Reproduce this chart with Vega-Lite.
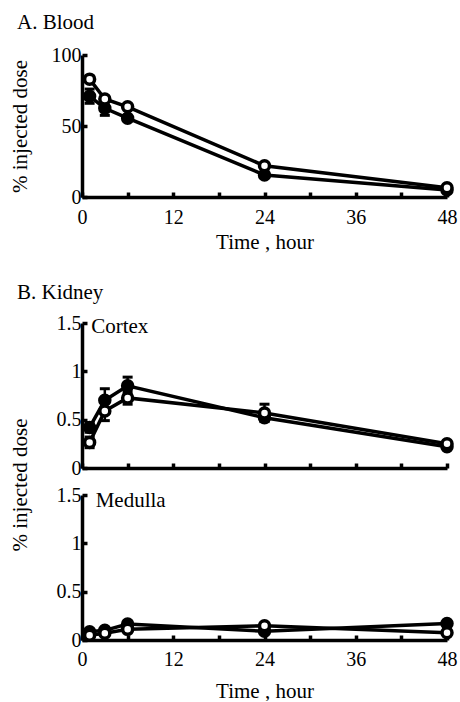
{
  "$schema": "https://vega.github.io/schema/vega-lite/v6.json",
  "padding": {"left": 9, "top": 12, "right": 0, "bottom": 0},
  "config": {
    "font": "Times New Roman",
    "view": {"stroke": null},
    "title": {"font": "Times New Roman", "fontSize": 21, "fontWeight": "normal", "color": "black", "anchor": "start", "frame": "group", "baseline": "alphabetic"},
    "text": {"font": "Times New Roman"},
    "axis": {
      "grid": false, "domainColor": "black", "domainWidth": 3.5, "tickColor": "black", "tickWidth": 3.5, "tickSize": -5,
      "labelFont": "Times New Roman", "labelFontSize": 20, "labelColor": "black", "labelFlush": false, "labelOverlap": false,
      "titleFont": "Times New Roman", "titleFontSize": 21, "titleFontWeight": "normal", "titleColor": "black"
    }
  },
  "datasets": {
    "blood": [
      {"series": "filled", "time": 1, "value": 71, "lo": 66, "hi": 76},
      {"series": "filled", "time": 3, "value": 62.5, "lo": 57.5, "hi": 67.5},
      {"series": "filled", "time": 6, "value": 55.5, "lo": null, "hi": null},
      {"series": "filled", "time": 24, "value": 15.5, "lo": null, "hi": null},
      {"series": "filled", "time": 48, "value": 5, "lo": null, "hi": null},
      {"series": "open", "time": 1, "value": 83, "lo": null, "hi": null},
      {"series": "open", "time": 3, "value": 69, "lo": null, "hi": null},
      {"series": "open", "time": 6, "value": 63.5, "lo": null, "hi": null},
      {"series": "open", "time": 24, "value": 22, "lo": null, "hi": null},
      {"series": "open", "time": 48, "value": 6.5, "lo": null, "hi": null}
    ],
    "cortex": [
      {"series": "filled", "time": 1, "value": 0.42, "lo": 0.37, "hi": 0.47},
      {"series": "filled", "time": 3, "value": 0.70, "lo": 0.58, "hi": 0.82},
      {"series": "filled", "time": 6, "value": 0.85, "lo": 0.76, "hi": 0.94},
      {"series": "filled", "time": 24, "value": 0.52, "lo": 0.49, "hi": 0.55},
      {"series": "filled", "time": 48, "value": 0.22, "lo": null, "hi": null},
      {"series": "open", "time": 1, "value": 0.265, "lo": 0.21, "hi": 0.32},
      {"series": "open", "time": 3, "value": 0.59, "lo": 0.49, "hi": 0.69},
      {"series": "open", "time": 6, "value": 0.725, "lo": 0.66, "hi": 0.79},
      {"series": "open", "time": 24, "value": 0.57, "lo": 0.48, "hi": 0.66},
      {"series": "open", "time": 48, "value": 0.25, "lo": null, "hi": null}
    ],
    "medulla": [
      {"series": "filled", "time": 1, "value": 0.086},
      {"series": "filled", "time": 3, "value": 0.10},
      {"series": "filled", "time": 6, "value": 0.165},
      {"series": "filled", "time": 24, "value": 0.09},
      {"series": "filled", "time": 48, "value": 0.17},
      {"series": "open", "time": 1, "value": 0.05},
      {"series": "open", "time": 3, "value": 0.07},
      {"series": "open", "time": 6, "value": 0.11},
      {"series": "open", "time": 24, "value": 0.147},
      {"series": "open", "time": 48, "value": 0.075}
    ]
  },
  "bounds": "flush",
  "spacing": 126,
  "vconcat": [
    {
      "width": 365, "height": 142,
      "title": {"text": "A. Blood", "dx": -65, "offset": 12},
      "data": {"name": "blood"},
      "encoding": {
        "x": {"field": "time", "type": "quantitative", "scale": {"domain": [0, 48], "nice": false},
          "axis": {"values": [0, 6, 12, 18, 24, 30, 36, 42, 48], "labelExpr": "datum.value % 12 === 0 ? datum.label : ''", "labelPadding": 15, "title": "Time , hour", "titleY": 45, "titleBaseline": "middle"}}
      },
      "layer": [
        {"mark": {"type": "line", "color": "black", "strokeWidth": 3.5},
         "encoding": {"detail": {"field": "series"},
           "y": {"field": "value", "type": "quantitative", "title": "% injected dose", "scale": {"domain": [0, 100], "nice": false},
             "axis": {"values": [0, 25, 50, 75, 100], "labelExpr": "datum.value % 50 === 0 ? datum.label : ''", "labelPadding": 6, "title": "% injected dose", "titleX": -62, "titleBaseline": "middle"}}}},
        {"mark": {"type": "rule", "color": "black", "strokeWidth": 2.5},
         "encoding": {"y": {"field": "lo", "type": "quantitative", "title": "% injected dose", "scale": {"domain": [0, 100], "nice": false}}, "y2": {"field": "hi"}}},
        {"mark": {"type": "tick", "orient": "horizontal", "color": "black", "size": 10, "thickness": 3, "opacity": 1},
         "encoding": {"y": {"field": "lo", "type": "quantitative", "title": "% injected dose", "scale": {"domain": [0, 100], "nice": false}}}},
        {"mark": {"type": "tick", "orient": "horizontal", "color": "black", "size": 10, "thickness": 3, "opacity": 1},
         "encoding": {"y": {"field": "hi", "type": "quantitative", "title": "% injected dose", "scale": {"domain": [0, 100], "nice": false}}}},
        {"mark": {"type": "point", "shape": "circle", "filled": true, "size": 100, "stroke": "black", "strokeWidth": 3.5, "opacity": 1},
         "encoding": {"y": {"field": "value", "type": "quantitative", "title": "% injected dose", "scale": {"domain": [0, 100], "nice": false}},
           "fill": {"field": "series", "type": "nominal", "scale": {"domain": ["filled", "open"], "range": ["black", "white"]}, "legend": null}}}
      ]
    },
    {
      "bounds": "flush",
      "spacing": 27,
      "vconcat": [
        {
          "width": 365, "height": 145,
          "title": {"text": "B. Kidney", "dx": -65, "offset": 10},
          "data": {"name": "cortex"},
          "encoding": {
            "x": {"field": "time", "type": "quantitative", "scale": {"domain": [0, 48], "nice": false},
              "axis": {"values": [0, 6, 12, 18, 24, 30, 36, 42, 48], "labels": false, "title": null}}
          },
          "layer": [
            {"mark": {"type": "line", "color": "black", "strokeWidth": 3.5},
             "encoding": {"detail": {"field": "series"},
               "y": {"field": "value", "type": "quantitative", "title": "% injected dose", "scale": {"domain": [0, 1.5], "nice": false},
                 "axis": {"values": [0, 0.25, 0.5, 0.75, 1, 1.25, 1.5], "labelExpr": "datum.value % 0.5 === 0 ? '' + datum.value : ''", "labelPadding": 6, "title": "% injected dose", "titleX": -62, "titleY": 161.5, "titleBaseline": "middle"}}}},
            {"mark": {"type": "rule", "color": "black", "strokeWidth": 2.5},
             "encoding": {"y": {"field": "lo", "type": "quantitative", "title": "% injected dose", "scale": {"domain": [0, 1.5], "nice": false}}, "y2": {"field": "hi"}}},
            {"mark": {"type": "tick", "orient": "horizontal", "color": "black", "size": 10, "thickness": 3, "opacity": 1},
             "encoding": {"y": {"field": "lo", "type": "quantitative", "title": "% injected dose", "scale": {"domain": [0, 1.5], "nice": false}}}},
            {"mark": {"type": "tick", "orient": "horizontal", "color": "black", "size": 10, "thickness": 3, "opacity": 1},
             "encoding": {"y": {"field": "hi", "type": "quantitative", "title": "% injected dose", "scale": {"domain": [0, 1.5], "nice": false}}}},
            {"mark": {"type": "point", "shape": "circle", "filled": true, "size": 100, "stroke": "black", "strokeWidth": 3.5, "opacity": 1},
             "encoding": {"y": {"field": "value", "type": "quantitative", "title": "% injected dose", "scale": {"domain": [0, 1.5], "nice": false}},
               "fill": {"field": "series", "type": "nominal", "scale": {"domain": ["filled", "open"], "range": ["black", "white"]}, "legend": null}}},
            {"data": {"values": [{"label": "Cortex", "lx": 1.2, "ly": 1.4}]},
             "mark": {"type": "text", "align": "left", "baseline": "alphabetic", "fontSize": 21, "color": "black"},
             "encoding": {"x": {"field": "lx", "type": "quantitative", "scale": {"domain": [0, 48], "nice": false}},
               "y": {"field": "ly", "type": "quantitative", "title": "% injected dose", "scale": {"domain": [0, 1.5], "nice": false}},
               "text": {"field": "label"}}}
          ]
        },
        {
          "width": 365, "height": 145,
          "data": {"name": "medulla"},
          "encoding": {
            "x": {"field": "time", "type": "quantitative", "scale": {"domain": [0, 48], "nice": false},
              "axis": {"values": [0, 6, 12, 18, 24, 30, 36, 42, 48], "labelExpr": "datum.value % 12 === 0 ? datum.label : ''", "labelPadding": 14, "title": "Time , hour", "titleY": 51, "titleBaseline": "middle"}}
          },
          "layer": [
            {"mark": {"type": "line", "color": "black", "strokeWidth": 3.5},
             "encoding": {"detail": {"field": "series"},
               "y": {"field": "value", "type": "quantitative", "scale": {"domain": [0, 1.5], "nice": false},
                 "axis": {"values": [0, 0.25, 0.5, 0.75, 1, 1.25, 1.5], "labelExpr": "datum.value % 0.5 === 0 ? '' + datum.value : ''", "labelPadding": 6, "title": null}}}},
            {"mark": {"type": "point", "shape": "circle", "filled": true, "size": 100, "stroke": "black", "strokeWidth": 3.5, "opacity": 1},
             "encoding": {"y": {"field": "value", "type": "quantitative", "scale": {"domain": [0, 1.5], "nice": false}},
               "fill": {"field": "series", "type": "nominal", "scale": {"domain": ["filled", "open"], "range": ["black", "white"]}, "legend": null}}},
            {"data": {"values": [{"label": "Medulla", "lx": 1.8, "ly": 1.38}]},
             "mark": {"type": "text", "align": "left", "baseline": "alphabetic", "fontSize": 21, "color": "black"},
             "encoding": {"x": {"field": "lx", "type": "quantitative", "scale": {"domain": [0, 48], "nice": false}},
               "y": {"field": "ly", "type": "quantitative", "scale": {"domain": [0, 1.5], "nice": false}},
               "text": {"field": "label"}}}
          ]
        }
      ]
    }
  ]
}
